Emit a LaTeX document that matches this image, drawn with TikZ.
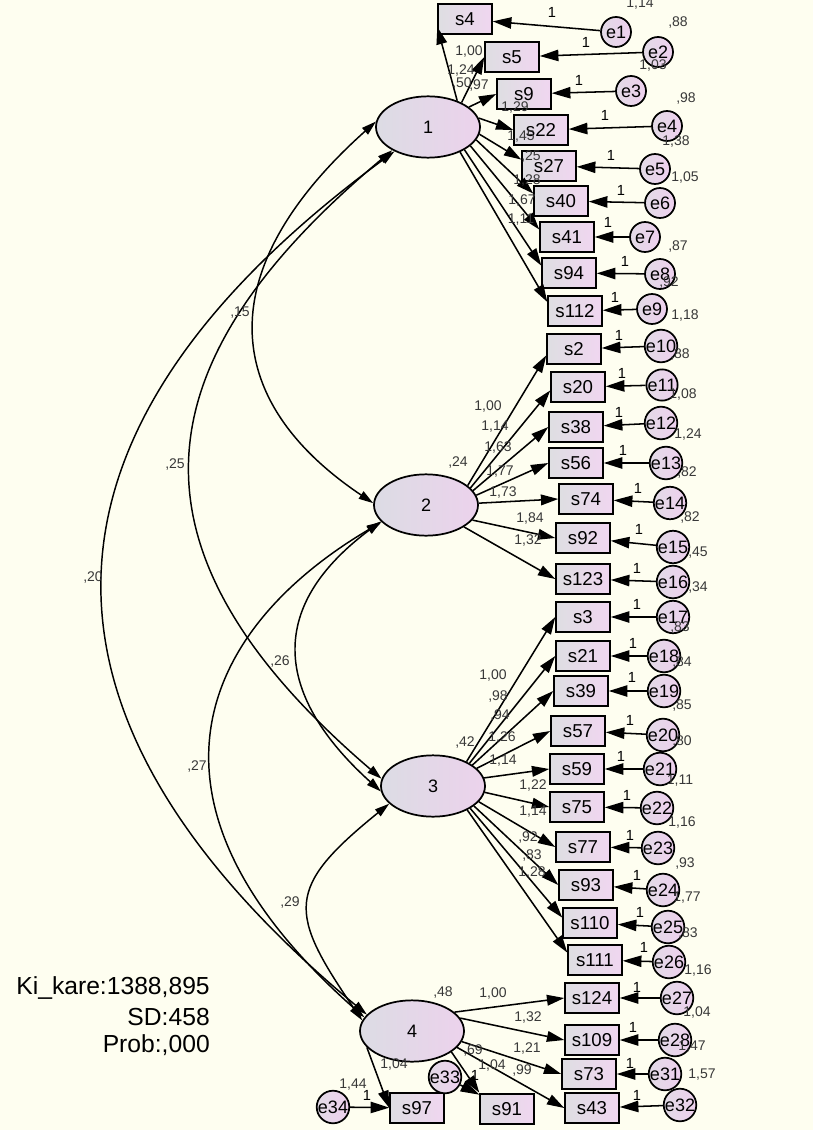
\documentclass[tikz,border=0pt]{standalone}
\usepackage{fontspec}
\setmainfont{Liberation Sans}
\usetikzlibrary{shapes.geometric,arrows.meta}
\definecolor{bgc}{HTML}{FEFEF0}
\definecolor{facL}{HTML}{DCDCE4}
\definecolor{facR}{HTML}{ECD2EC}
\definecolor{boxL}{HTML}{DEDEE2}
\definecolor{boxR}{HTML}{F0D6F0}
\definecolor{errL}{HTML}{E2DAE6}
\definecolor{errR}{HTML}{EED0EE}
\definecolor{labc}{HTML}{383838}
\begin{document}
\begin{tikzpicture}[x=0.75pt,y=-0.75pt,
  fac/.style={ellipse,draw,line width=1.3pt,minimum width=78pt,minimum height=46pt,inner sep=0pt,left color=facL,right color=facR,font=\fontsize{13.5}{16}\selectfont},
  obs/.style={rectangle,draw,line width=1.6pt,minimum width=40pt,minimum height=23pt,inner sep=0pt,left color=boxL,right color=boxR,font=\fontsize{14}{16}\selectfont},
  err/.style={circle,draw,line width=1.3pt,minimum size=22.5pt,inner sep=0pt,left color=errL,right color=errR,font=\fontsize{13.5}{16}\selectfont},
  lab/.style={inner sep=0pt,text=labc,font=\fontsize{10.5}{12}\selectfont},
  onelab/.style={inner sep=0pt,font=\fontsize{11}{12}\selectfont},
  stat/.style={inner sep=0pt,anchor=east,font=\fontsize{18.5}{22}\selectfont},
  load/.style={line width=1.15pt,-{Triangle[length=13pt,width=8pt]}},
  errarr/.style={line width=1.15pt,-{Triangle[length=14pt,width=8.5pt]}},
  cov/.style={line width=1.1pt,{Triangle[length=11pt,width=6.5pt]}-{Triangle[length=11pt,width=6.5pt]}}]
\useasboundingbox (0,0) rectangle (813,1130);
\fill[bgc] (0,0) rectangle (813,1130);

% latent factors
\node[fac] (f1) at (428,127) {1};
\node[fac] (f2) at (426,505) {2};
\node[fac] (f3) at (433,786) {3};
\node[fac] (f4) at (412,1031) {4};

% observed items
\foreach \n/\x/\y in {s4/465/19, s5/512/57, s9/524/94, s22/541/130, s27/549/166, s40/561/201, s41/567/237, s94/569/273, s112/575/311,
  s2/574/349, s20/578/387, s38/576/427, s56/576/463, s74/586/499, s92/583/538, s123/583/579,
  s3/583/617, s21/583/656, s39/581/691, s57/578/731, s59/577/769, s75/577/807, s77/583/847, s93/586/885, s110/590/923, s111/595/960,
  s124/592/998, s109/592/1040, s73/589/1074, s43/592/1108, s97/417/1108, s91/507/1109}
  \node[obs] (\n) at (\x,\y) {\n};

% error terms
\foreach \n/\x/\y in {e1/616/32, e2/658/52, e3/631/91, e4/667/126, e5/655/169, e6/660/203, e7/645/237, e8/660/274, e9/652/309,
  e10/661/346, e11/662/385, e12/661/423, e13/666/463, e14/670/503, e15/673/547, e16/673/582, e17/673/617,
  e18/664/656, e19/664/691, e20/663/735, e21/660/769, e22/657/808, e23/658/848, e24/663/890, e25/668/927, e26/669/962,
  e27/677/998, e28/675/1040, e31/665/1074, e32/680/1105}
  \node[err] (\n) at (\x,\y) {\n};
\node[err,minimum size=18pt] (e33) at (445,1077) {e33};
\node[err,minimum size=19.5pt] (e34) at (333,1107) {e34};

% covariances
\draw[cov] (f1.174) .. controls (212,268) and (218,399) .. (f2.178);
\draw[cov] (f1.213) .. controls (146,357) and (107,544) .. (f3.172);
\draw[cov] (f1.216) .. controls (111,360) and (-73,649) .. (f4.160);
\draw[cov] (f2.200) .. controls (257,614) and (284,704) .. (f3.186);
\draw[cov] (f2.201) .. controls (205,626) and (117,798) .. (f4.164);
\draw[cov] (f3.202) .. controls (285,888) and (288,912) .. (f4.168);

% loadings
\foreach \a/\s/\b in {42/s4/196, 36/s5/west, 26/s9/west, 10/s22/west, 352/s27/167, 345/s40/165, 336/s41/165, 328/s94/165, 322/s112/162}
  \draw[load] (f1.\a) -- (\s.\b);
\foreach \a/\s/\b in {25/s2/193, 21/s20/187, 17/s38/west, 11/s56/west, 2/s74/west, 342/s92/west, 330/s123/west}
  \draw[load] (f2.\a) -- (\s.\b);
\foreach \a/\s/\b in {36/s3/west, 32/s21/west, 28/s39/west, 22/s57/west, 9/s59/west, 353/s75/west, 341/s77/west, 334/s93/west, 329/s110/169, 325/s111/165}
  \draw[load] (f3.\a) -- (\s.\b);
\foreach \a/\s/\b in {24/s124/west, 15/s109/west, 348/s73/west, 340/s43/west, 332/s91/north west, 200/s97/west}
  \draw[load] (f4.\a) -- (\s.\b);

% error paths
\foreach \e/\s in {e1/s4, e2/s5, e3/s9, e4/s22, e5/s27, e6/s40, e7/s41, e8/s94, e9/s112,
  e10/s2, e11/s20, e12/s38, e13/s56, e14/s74, e15/s92, e16/s123, e17/s3,
  e18/s21, e19/s39, e20/s57, e21/s59, e22/s75, e23/s77, e24/s93, e25/s110, e26/s111,
  e27/s124, e28/s109, e31/s73, e32/s43, e33/s91, e34/s97}
  \draw[errarr] (\e) -- (\s);

% labels
\foreach \t/\x/\y [count=\i] in {{1,00}/469/52, {1,24}/461/71, {,50}/462/84, {,97}/479/86, {1,29}/515/108, {1,45}/521/137, {,25}/531/157, {1,28}/527/181, {1,67}/522/201, {1,11}/521/220,
  {,24}/458/463, {1,00}/488/407, {1,14}/495/427, {1,63}/498/448, {1,77}/500/472, {1,73}/503/493, {1,84}/530/519, {1,32}/528/541,
  {,42}/465/743, {1,00}/493/676, {,98}/498/697, {,94}/500/716, {1,26}/502/738, {1,14}/503/761, {1,22}/533/785, {1,14}/533/812, {,92}/528/837, {,83}/532/855, {1,28}/532/872,
  {,48}/443/992, {1,00}/493/993, {1,32}/528/1017, {1,21}/527/1048, {,69}/473/1050, {1,04}/492/1065, {,99}/522/1070, {1,04}/394/1064, {1,44}/353/1085,
  {,15}/240/313, {,25}/175/465, {,20}/93/578, {,26}/280/662, {,27}/197/767, {,29}/290/902,
  {1,14}/640/4, {,88}/678/23, {1,03}/653/66, {,98}/686/99, {1,38}/676/142, {1,05}/685/178, {,87}/678/247, {,92}/669/283, {1,18}/685/316,
  {,88}/680/355, {1,08}/683/395, {1,24}/688/435, {,82}/687/473, {,82}/690/518, {,45}/698/553, {,34}/698/588, {,83}/680/628,
  {,84}/682/663, {,85}/682/706, {,80}/682/742, {1,11}/680/781, {1,16}/682/822, {,93}/685/863, {1,77}/687/898, {,83}/688/933, {1,16}/698/970,
  {1,04}/697/1012, {1,47}/692/1047, {1,57}/702/1075}
  \node[lab] (lv\i) at (\x,\y) {\t};

\foreach \x/\y [count=\i] in {552/12, 586/42, 579/80, 605/115, 611/155, 621/190, 608/222, 625/261, 615/297,
  619/335, 622/373, 619/412, 623/450, 638/488, 639/529, 637/568, 637/604,
  633/643, 632/677, 630/720, 621/756, 627/795, 630/835, 637/875, 640/912, 644/947,
  637/987, 633/1027, 630/1063, 637/1095, 367/1095, 475/1075}
  \node[onelab] (one\i) at (\x,\y) {1};

% fit statistics
\node[stat] (ki) at (210,988) {Ki\_kare:1388,895};
\node[stat] (sd) at (210,1017) {SD:458};
\node[stat] (pr) at (210,1045) {Prob:,000};
\end{tikzpicture}
\end{document}
